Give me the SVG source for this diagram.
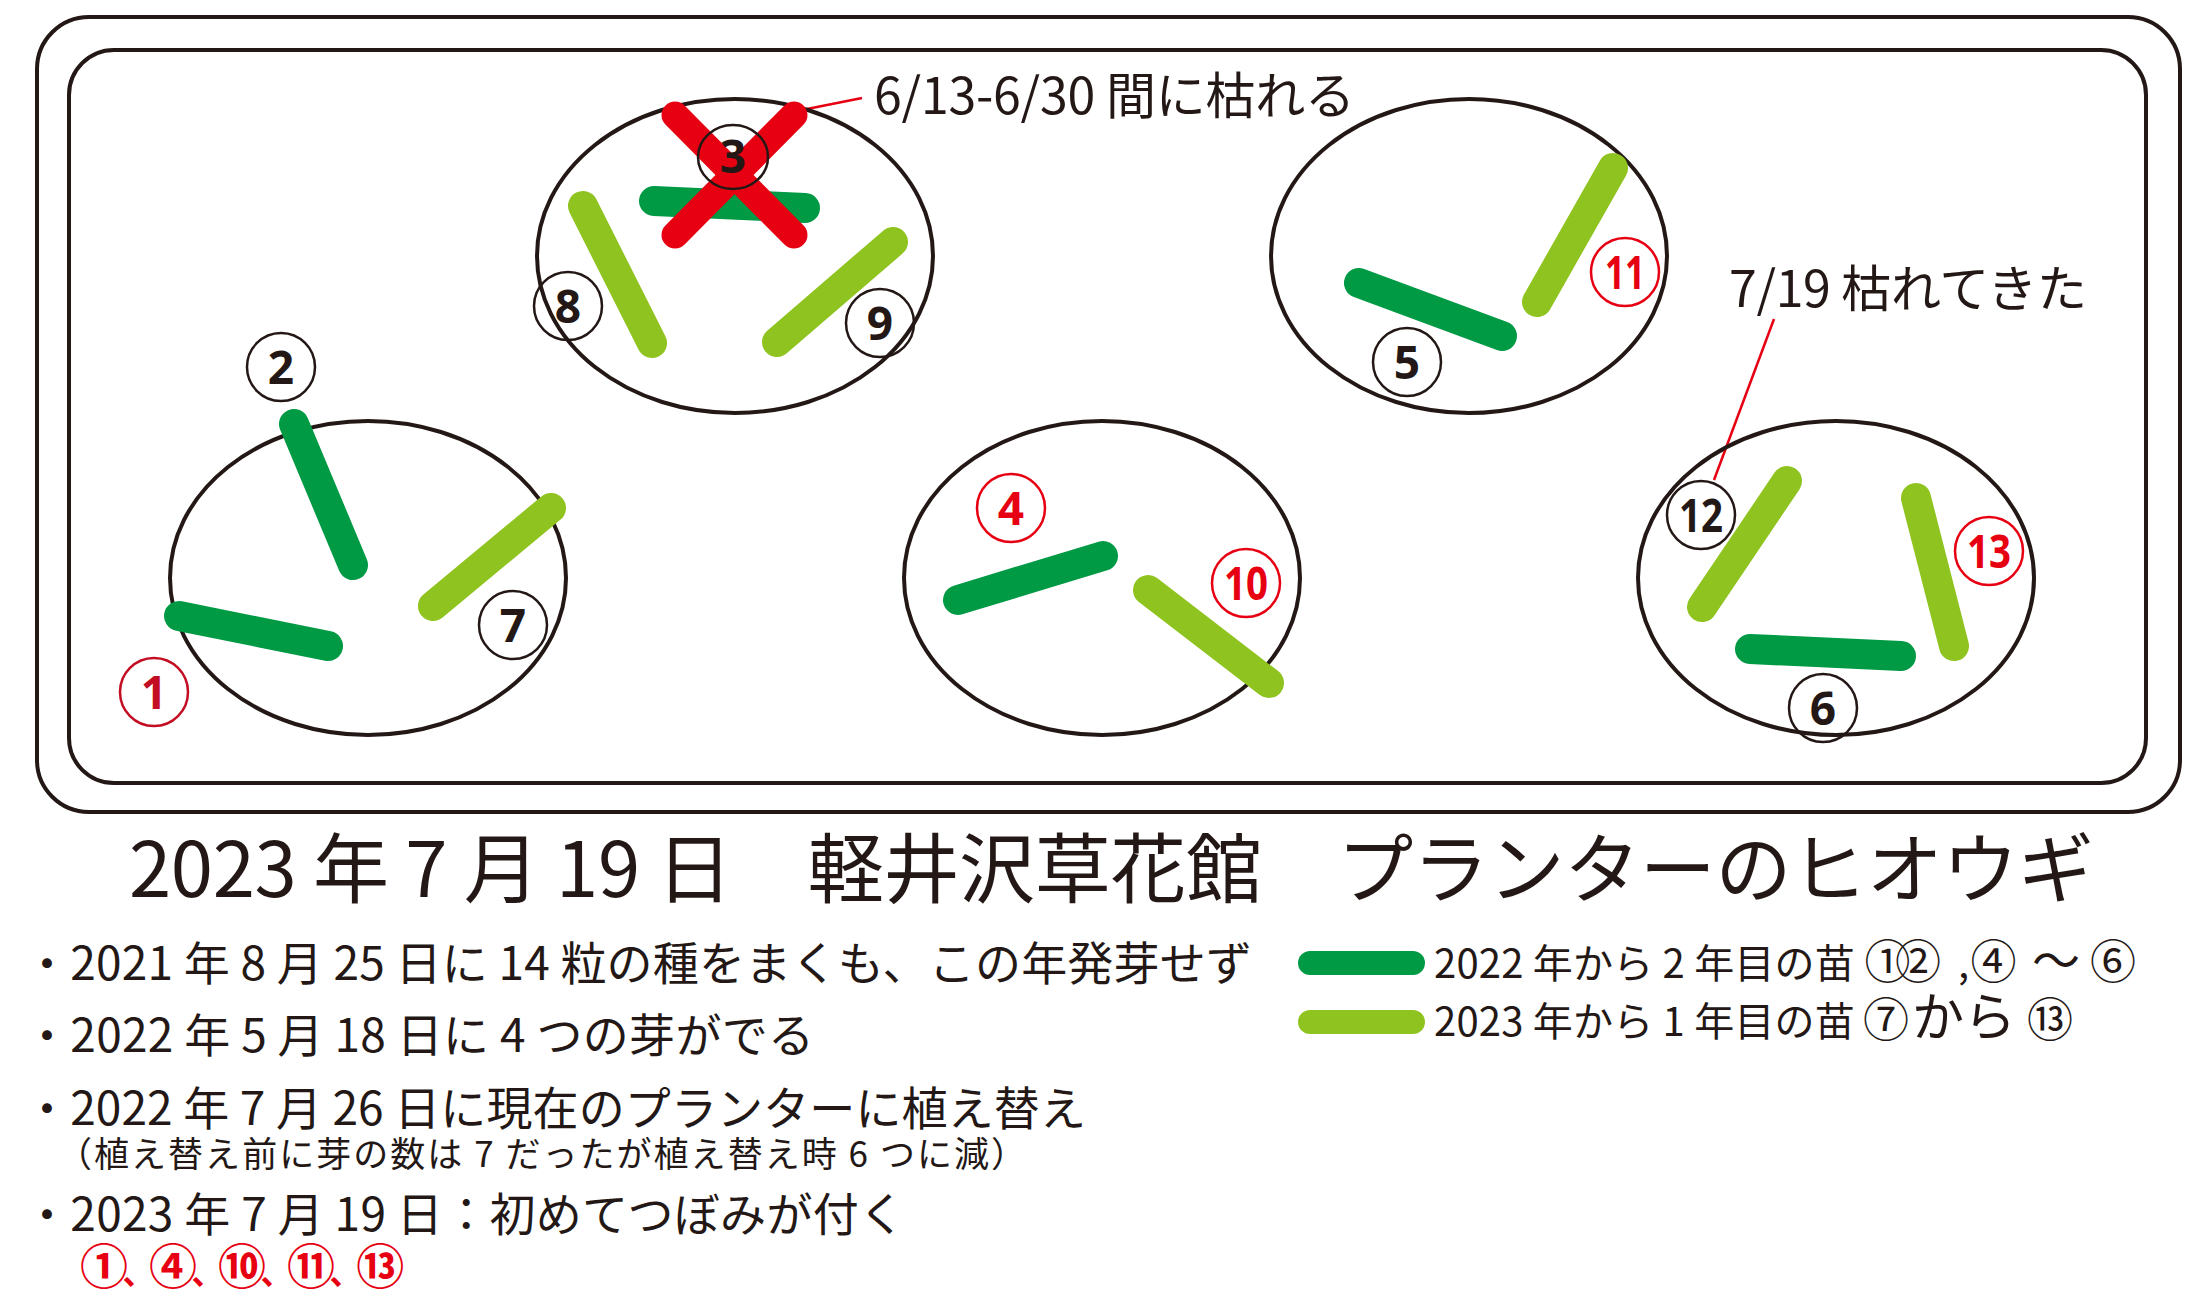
<svg xmlns="http://www.w3.org/2000/svg" width="2212" height="1299" viewBox="0 0 2212 1299">
<style>
.frame{fill:none;stroke:#231815;stroke-width:4}
.pot{fill:none;stroke:#231815;stroke-width:4}
.dk{stroke:#009944;stroke-width:30;stroke-linecap:round;fill:none}
.lt{stroke:#8fc31f;stroke-width:30;stroke-linecap:round;fill:none}
.x{stroke:#e60012;stroke-width:27;stroke-linecap:round;fill:none}
.lc{fill:none;stroke:#231815;stroke-width:2.5}
.lcr{fill:none;stroke:#e60012;stroke-width:2.5}
.lcd{fill:none;stroke:#c30d23;stroke-width:2.5}
.num{font-family:"Noto Sans","Liberation Sans",sans-serif;font-weight:700;font-size:46px;text-anchor:middle;fill:#231815}
.numr{fill:#e60012}
.numd{fill:#c30d23}
.jp{font-family:"Noto Sans CJK JP","Noto Sans",sans-serif;fill:#231815}
.red{fill:#e60012}
.conn{stroke:#e60012;stroke-width:2.5;fill:none}
</style>
<rect id="planter-outer" class="frame" x="37" y="17" width="2143" height="795" rx="52" ry="52"/>
<rect id="planter-inner" class="frame" x="69" y="50" width="2077" height="733" rx="45" ry="45"/>

<g id="connectors">
<line class="conn" x1="807" y1="109" x2="862" y2="98"/>
<line class="conn" x1="1774" y1="319" x2="1714" y2="480"/>
</g>

<g id="pot-1">
<ellipse class="pot" cx="368" cy="578" rx="198" ry="157"/>
<g id="seedling-1"><line class="dk" x1="179" y1="616" x2="328" y2="646"/><circle class="lcd" cx="154" cy="692" r="34"/><text class="num numd" x="154" y="708.5">1</text></g>
<g id="seedling-2"><line class="dk" x1="294" y1="424" x2="353" y2="565"/><circle class="lc" cx="281" cy="367" r="34"/><text class="num" x="281" y="383.5">2</text></g>
<g id="seedling-7"><line class="lt" x1="551" y1="508" x2="433" y2="606"/><circle class="lc" cx="513" cy="625" r="34"/><text class="num" x="513" y="641.5">7</text></g>
</g>

<g id="pot-2">
<ellipse class="pot" cx="735" cy="256" rx="198" ry="157"/>
<g id="seedling-8"><line class="lt" x1="583" y1="206" x2="652" y2="343"/><circle class="lc" cx="568" cy="306" r="34"/><text class="num" x="568" y="322.5">8</text></g>
<g id="seedling-9"><line class="lt" x1="893" y1="242" x2="777" y2="342"/><circle class="lc" cx="880" cy="323" r="34"/><text class="num" x="880" y="339.5">9</text></g>
<g id="seedling-3"><line class="dk" x1="654" y1="201" x2="805" y2="208"/><line class="x" x1="675" y1="115" x2="794" y2="235"/><line class="x" x1="794" y1="115" x2="675" y2="235"/><ellipse class="lc" cx="733" cy="157" rx="35" ry="32"/><text class="num" x="733" y="173">3</text></g>
</g>

<g id="pot-3">
<ellipse class="pot" cx="1102" cy="578" rx="198" ry="157"/>
<g id="seedling-4"><line class="dk" x1="958" y1="600" x2="1103" y2="556"/><circle class="lcr" cx="1011" cy="508" r="34"/><text class="num numr" x="1011" y="524.5">4</text></g>
<g id="seedling-10"><line class="lt" x1="1148" y1="590" x2="1269" y2="683"/><circle class="lcr" cx="1246" cy="583" r="34"/><text class="num numr" x="1246" y="599.5" textLength="44" lengthAdjust="spacingAndGlyphs">10</text></g>
</g>

<g id="pot-4">
<ellipse class="pot" cx="1469" cy="256" rx="198" ry="157"/>
<g id="seedling-5"><line class="dk" x1="1359" y1="283" x2="1502" y2="336"/><circle class="lc" cx="1407" cy="362" r="34"/><text class="num" x="1407" y="378.5">5</text></g>
<g id="seedling-11"><line class="lt" x1="1613" y1="168" x2="1537" y2="302"/><circle class="lcr" cx="1625" cy="272" r="34"/><text class="num numr" x="1625" y="288.5" textLength="40" lengthAdjust="spacingAndGlyphs">11</text></g>
</g>

<g id="pot-5">
<ellipse class="pot" cx="1836" cy="578" rx="198" ry="157"/>
<g id="seedling-12"><line class="lt" x1="1787" y1="481" x2="1702" y2="607"/><circle class="lc" cx="1701" cy="515" r="34"/><text class="num" x="1701" y="531.5" textLength="44" lengthAdjust="spacingAndGlyphs">12</text></g>
<g id="seedling-13"><line class="lt" x1="1916" y1="498" x2="1954" y2="646"/><circle class="lcr" cx="1989" cy="551" r="34"/><text class="num numr" x="1989" y="567.5" textLength="44" lengthAdjust="spacingAndGlyphs">13</text></g>
<g id="seedling-6"><line class="dk" x1="1750" y1="649" x2="1901" y2="656"/><circle class="lc" cx="1823" cy="708" r="34"/><text class="num" x="1823" y="724.5">6</text></g>
</g>

<g id="notes">
<text class="jp" x="874" y="114" font-size="50" textLength="481">6/13-6/30 間に枯れる</text>
<text class="jp" x="1729" y="307" font-size="50" textLength="358">7/19 枯れてきた</text>
</g>

<text id="title" class="jp" x="129" y="897" font-size="76" textLength="1965">2023 年 7 月 19 日　軽井沢草花館　プランターのヒオウギ</text>

<g id="history">
<text class="jp" x="24" y="980" font-size="46" textLength="1228">・2021 年 8 月 25 日に 14 粒の種をまくも、この年発芽せず</text>
<text class="jp" x="24" y="1052" font-size="46" textLength="790">・2022 年 5 月 18 日に 4 つの芽がでる</text>
<text class="jp" x="24" y="1125" font-size="46" textLength="1062">・2022 年 7 月 26 日に現在のプランターに植え替え</text>
<text class="jp" x="57" y="1167" font-size="35" textLength="969">（植え替え前に芽の数は 7 だったが植え替え時 6 つに減）</text>
<text class="jp" x="24" y="1231" font-size="46" textLength="881">・2023 年 7 月 19 日：初めてつぼみが付く</text>
<text class="jp red" x="80" y="1284" font-size="48" font-weight="700" letter-spacing="-5.5">①<tspan font-size="32">、</tspan>④<tspan font-size="32">、</tspan>⑩<tspan font-size="32">、</tspan>⑪<tspan font-size="32">、</tspan>⑬</text>
</g>

<g id="legend">
<g id="legend-2year"><line class="dk" x1="1310" y1="963" x2="1413" y2="963" style="stroke-width:24"/>
<text class="jp" x="1434" y="978" font-size="40"><tspan textLength="430">2022 年から 2 年目の苗 </tspan><tspan x="1864.5" font-size="46">①</tspan><tspan x="1895" font-size="46">②</tspan><tspan x="1958" font-size="40">,</tspan><tspan x="1970.5" font-size="46">④</tspan><tspan x="2032" font-size="48">〜</tspan><tspan x="2090" font-size="46">⑥</tspan></text></g>
<g id="legend-1year"><line class="lt" x1="1310" y1="1022" x2="1413" y2="1022" style="stroke-width:24"/>
<text class="jp" x="1434" y="1036" font-size="40"><tspan textLength="430">2023 年から 1 年目の苗 </tspan><tspan x="1863" font-size="46">⑦</tspan><tspan x="1912" font-size="52">から</tspan><tspan x="2027" font-size="46">⑬</tspan></text></g>
</g>
</svg>
